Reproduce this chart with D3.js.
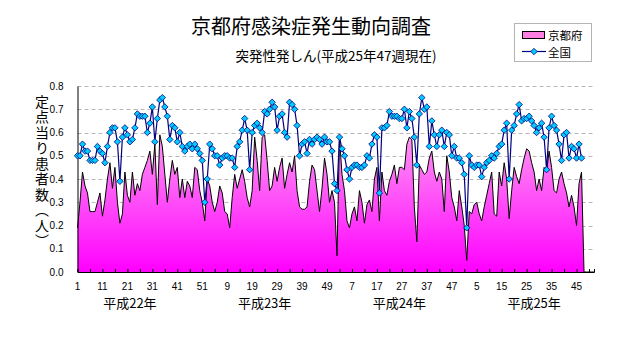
<!DOCTYPE html>
<html><head><meta charset="utf-8">
<script src="https://cdn.jsdelivr.net/npm/d3@7/dist/d3.min.js"></script>
<style>
html,body{margin:0;padding:0;background:#fff;}
svg{display:block;}
</style></head>
<body>
<svg id="chart" width="632" height="348"></svg>
<script>
// ---- data ----
const title = "京都府感染症発生動向調査";
const subtitle = "突発性発しん(平成25年47週現在)";
const yTitle = "定点当り患者数（人）";
const seriesNames = ["京都府", "全国"];
const yearLabels = ["平成22年", "平成23年", "平成24年", "平成25年"];
const yearLabelPos = [21, 75, 129, 183];   // week index at label centre
const weeksPerYear = [52, 52, 52, 52];
const yTicks = [0, 0.1, 0.2, 0.3, 0.4, 0.5, 0.6, 0.7, 0.8];

// 京都府 (weekly, 2010 wk1 .. 2013 wk47)
const kyoto = [
 0.19,0.30,0.43,0.37,0.34,0.26,0.26,0.26,0.30,0.34, 0.24,0.31,0.40,0.47,0.36,0.45,0.30,0.21,0.25,0.43,
 0.33,0.30,0.43,0.33,0.38,0.35,0.42,0.45,0.48,0.52, 0.42,0.55,0.29,0.59,0.54,0.42,0.30,0.40,0.48,0.42,
 0.45,0.32,0.40,0.32,0.39,0.37,0.32,0.45,0.44,0.35, 0.30,0.22,
 0.40,0.37,0.30,0.26,0.30,0.37,0.34,0.26,0.25,0.19, 0.32,0.42,0.36,0.40,0.44,0.39,0.32,0.28,0.35,0.58,
 0.48,0.35,0.58,0.59,0.48,0.35,0.37,0.45,0.39,0.45, 0.49,0.36,0.42,0.47,0.43,0.50,0.35,0.28,0.27,0.27,
 0.28,0.39,0.46,0.44,0.35,0.26,0.36,0.49,0.42,0.30, 0.35,0.30,
 0.07,0.58,0.42,0.35,0.22,0.19,0.25,0.28,0.22,0.35, 0.30,0.21,0.29,0.31,0.26,0.40,0.45,0.22,0.43,0.35,
 0.33,0.39,0.42,0.46,0.38,0.45,0.45,0.44,0.55,0.58, 0.57,0.28,0.13,0.46,0.44,0.42,0.43,0.49,0.52,0.43,
 0.39,0.43,0.40,0.26,0.50,0.43,0.32,0.28,0.22,0.35, 0.28,0.20,
 0.05,0.26,0.25,0.29,0.30,0.25,0.22,0.28,0.33,0.38, 0.43,0.25,0.24,0.43,0.37,0.47,0.40,0.23,0.35,0.45,
 0.41,0.38,0.44,0.49,0.53,0.52,0.47,0.43,0.35,0.40, 0.35,0.45,0.43,0.52,0.45,0.35,0.34,0.40,0.43,0.38,
 0.34,0.28,0.33,0.28,0.20,0.38,0.43
];
// 全国
const national = [
 0.50,0.50,0.55,0.52,0.52,0.48,0.48,0.48,0.54,0.52, 0.51,0.47,0.54,0.60,0.62,0.62,0.56,0.39,0.58,0.62,
 0.59,0.56,0.57,0.62,0.68,0.67,0.67,0.67,0.60,0.64, 0.71,0.56,0.66,0.74,0.75,0.71,0.67,0.57,0.63,0.62,
 0.56,0.60,0.54,0.52,0.54,0.55,0.53,0.55,0.53,0.51, 0.48,0.30,
 0.40,0.55,0.53,0.50,0.50,0.46,0.49,0.50,0.50,0.49, 0.49,0.45,0.54,0.56,0.61,0.66,0.61,0.44,0.60,0.63,
 0.64,0.62,0.60,0.69,0.68,0.70,0.73,0.71,0.61,0.67, 0.68,0.60,0.58,0.73,0.72,0.70,0.63,0.50,0.55,0.56,
 0.51,0.57,0.55,0.57,0.58,0.57,0.55,0.58,0.56,0.56, 0.52,0.38,
 0.35,0.58,0.53,0.50,0.44,0.40,0.45,0.46,0.46,0.45, 0.45,0.46,0.50,0.49,0.55,0.59,0.58,0.34,0.62,0.62,
 0.63,0.69,0.67,0.67,0.67,0.66,0.66,0.70,0.62,0.69, 0.66,0.58,0.46,0.68,0.75,0.70,0.71,0.54,0.65,0.59,
 0.54,0.59,0.61,0.54,0.60,0.59,0.50,0.54,0.49,0.49, 0.47,0.42,
 0.19,0.50,0.46,0.45,0.46,0.46,0.41,0.45,0.47,0.48, 0.50,0.49,0.51,0.54,0.55,0.61,0.64,0.40,0.61,0.63,
 0.68,0.72,0.65,0.66,0.66,0.67,0.65,0.63,0.60,0.62, 0.64,0.58,0.44,0.62,0.67,0.63,0.61,0.55,0.48,0.59,
 0.60,0.49,0.54,0.53,0.49,0.55,0.49
];

// category labels (week numbers)
const weekLabels = [];
weeksPerYear.forEach(n => { for (let w = 1; w <= n; w++) weekLabels.push(w); });
const nCats = weekLabels.length;

// ---- drawing ----
const svg = d3.select("#chart");
const jp = "'Noto Sans CJK JP','Noto Sans',sans-serif";
const num = "'Liberation Sans',Arial,sans-serif";

const x = d3.scaleLinear().domain([0, nCats - 1]).range([77.5, 594]);
const y = d3.scaleLinear().domain([0, 0.8]).range([272, 86]);

const defs = svg.append("defs");
const grad = defs.append("linearGradient").attr("id", "pinkGrad")
  .attr("gradientUnits", "userSpaceOnUse")
  .attr("x1", 0).attr("x2", 0).attr("y1", y(0.8)).attr("y2", y(0));
grad.append("stop").attr("offset", "0%").attr("stop-color", "#ffcdee");
grad.append("stop").attr("offset", "100%").attr("stop-color", "#ff00ff");

// gridlines
svg.append("g").selectAll("line").data(yTicks.filter(t => t > 0)).join("line")
  .attr("x1", x(0)).attr("x2", x(nCats - 1))
  .attr("y1", d => Math.round(y(d)) + 0.5).attr("y2", d => Math.round(y(d)) + 0.5)
  .attr("stroke", "#b8b8b8").attr("stroke-width", 1).attr("stroke-dasharray", "4,3");

// area (blank weeks rendered at zero, as in the original)
const areaVals = d3.range(nCats).map(i => i < kyoto.length ? kyoto[i] : 0);
svg.append("path").datum(areaVals)
  .attr("d", d3.area().x((d, i) => x(i)).y0(y(0)).y1(d => y(d)))
  .attr("fill", "url(#pinkGrad)");
svg.append("path").datum(areaVals)
  .attr("d", d3.line().x((d, i) => x(i)).y(d => y(d)))
  .attr("fill", "none").attr("stroke", "#000").attr("stroke-width", 1);

// axes
const xAxis = d3.axisBottom(x)
  .tickValues(d3.range(0, nCats, 5))
  .tickSize(-3).tickFormat("");
svg.append("g").attr("transform", `translate(0,${y(0)})`).call(xAxis)
  .call(g => g.select(".domain").attr("stroke", "#000"))
  .call(g => g.selectAll(".tick line").attr("stroke", "#000"));

const yAxis = d3.axisLeft(y).tickValues(yTicks).tickSize(0).tickFormat(d3.format(".1f"));
svg.append("g").attr("transform", `translate(${x(0)},0)`).call(yAxis)
  .call(g => g.select(".domain").attr("stroke", "#000"))
  .call(g => g.selectAll(".tick text").attr("x", -14).attr("font-family", num)
     .attr("font-size", 10).attr("fill", "#000"));

// x tick labels
svg.append("g").selectAll("text").data(d3.range(0, kyoto.length, 10)).join("text")
  .attr("x", d => x(d)).attr("y", 290)
  .attr("text-anchor", "middle").attr("font-family", num).attr("font-size", 10)
  .text(d => weekLabels[d]);

// year labels
svg.append("g").selectAll("text").data(yearLabels).join("text")
  .attr("x", (d, i) => x(yearLabelPos[i])).attr("y", 308)
  .attr("text-anchor", "middle").attr("font-family", jp).attr("font-size", 13)
  .text(d => d);

// national line + diamonds
svg.append("path").datum(national)
  .attr("d", d3.line().x((d, i) => x(i)).y(d => y(d)))
  .attr("fill", "none").attr("stroke", "#000080").attr("stroke-width", 1.2);
const dia = "M0,-3.2L3.2,0L0,3.2L-3.2,0Z";
svg.append("g").selectAll("path").data(national).join("path")
  .attr("d", dia)
  .attr("transform", (d, i) => `translate(${x(i)},${y(d)})`)
  .attr("fill", "#00ccff").attr("stroke", "#000080").attr("stroke-width", 0.8);

// titles
svg.append("text").attr("x", 311).attr("y", 34).attr("text-anchor", "middle")
  .attr("font-family", jp).attr("font-size", 20).text(title);
svg.append("text").attr("x", 336).attr("y", 61).attr("text-anchor", "middle")
  .attr("font-family", jp).attr("font-size", 13.5).text(subtitle);

// y title (vertical)
svg.append("text").attr("x", 42).attr("y", 172)
  .attr("text-anchor", "middle")
  .style("writing-mode", "vertical-rl")
  .style("letter-spacing", "1.5px")
  .attr("font-family", jp).attr("font-size", 14)
  .text(yTitle);

// legend
const lg = svg.append("g");
lg.append("rect").attr("x", 514.5).attr("y", 23.5).attr("width", 77).attr("height", 38)
  .attr("fill", "#fff").attr("stroke", "#b4b4b4");
lg.append("rect").attr("x", 522.5).attr("y", 31.5).attr("width", 22).attr("height", 7)
  .attr("fill", "#ff80e0").attr("stroke", "#000");
lg.append("text").attr("x", 548).attr("y", 39.5).attr("font-family", jp).attr("font-size", 11.5)
  .text(seriesNames[0]);
lg.append("line").attr("x1", 522).attr("x2", 546).attr("y1", 51.5).attr("y2", 51.5)
  .attr("stroke", "#000080").attr("stroke-width", 1.2);
lg.append("path").attr("d", dia).attr("transform", "translate(534,51.5)")
  .attr("fill", "#00ccff").attr("stroke", "#000080").attr("stroke-width", 0.8);
lg.append("text").attr("x", 548).attr("y", 56.5).attr("font-family", jp).attr("font-size", 11.5)
  .text(seriesNames[1]);
</script>
</body></html>
